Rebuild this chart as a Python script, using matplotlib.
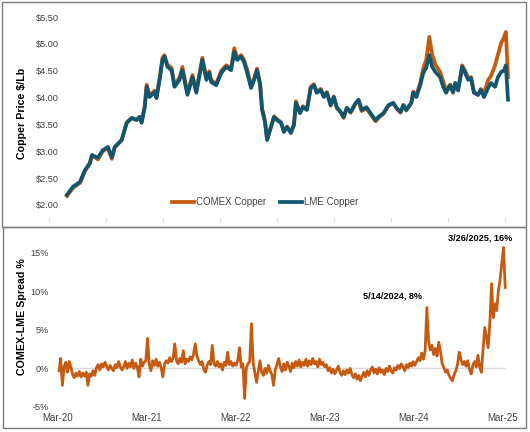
import numpy as np
import pandas as pd
import matplotlib
matplotlib.use("Agg")
import matplotlib.pyplot as plt
import matplotlib.dates as mdates
from matplotlib.patches import Rectangle

plt.rcParams['font.family'] = ['Liberation Sans', 'DejaVu Sans']

# ---------------- data ----------------
price_dates = [
    "2020-03-23", "2020-04-17", "2020-05-16", "2020-06-06", "2020-06-26", "2020-07-05", "2020-07-30",
    "2020-08-19", "2020-09-09", "2020-09-26", "2020-10-08", "2020-11-06", "2020-11-27", "2020-12-18",
    "2021-01-07", "2021-01-20", "2021-01-28", "2021-02-10", "2021-02-18", "2021-03-02", "2021-03-23",
    "2021-03-31", "2021-04-13", "2021-04-25", "2021-05-03", "2021-05-16", "2021-06-02", "2021-06-14",
    "2021-07-05", "2021-07-17", "2021-08-07", "2021-08-28", "2021-09-13", "2021-10-08", "2021-10-25",
    "2021-11-06", "2021-11-14", "2021-12-05", "2021-12-26", "2022-01-16", "2022-02-05", "2022-02-18",
    "2022-03-02", "2022-03-19", "2022-03-31", "2022-04-13", "2022-04-29", "2022-05-12", "2022-05-24",
    "2022-06-06", "2022-06-14", "2022-06-26", "2022-07-05", "2022-07-21", "2022-08-03", "2022-08-15",
    "2022-09-01", "2022-09-13", "2022-09-26", "2022-10-12", "2022-10-25", "2022-11-02", "2022-11-19",
    "2022-12-01", "2022-12-18", "2023-01-03", "2023-01-16", "2023-01-28", "2023-02-14", "2023-02-26",
    "2023-03-11", "2023-03-27", "2023-04-09", "2023-04-21", "2023-05-08", "2023-05-20", "2023-06-02",
    "2023-06-18", "2023-07-09", "2023-07-21", "2023-08-03", "2023-08-23", "2023-09-09", "2023-09-30",
    "2023-10-12", "2023-11-02", "2023-11-23", "2023-12-13", "2023-12-26", "2024-01-12", "2024-01-24",
    "2024-02-05", "2024-02-26", "2024-03-05", "2024-03-18", "2024-04-03", "2024-04-16", "2024-04-28",
    "2024-05-11", "2024-05-23", "2024-06-05", "2024-06-25", "2024-07-08", "2024-07-20", "2024-08-06",
    "2024-08-18", "2024-08-27", "2024-09-08", "2024-09-25", "2024-10-07", "2024-10-20", "2024-11-01",
    "2024-11-13", "2024-11-30", "2024-12-12", "2024-12-25", "2025-01-11", "2025-01-23", "2025-02-09",
    "2025-02-21", "2025-03-07", "2025-03-18", "2025-03-26", "2025-04-04",
]
lme_copper = [
    2.19, 2.34, 2.43, 2.65, 2.78, 2.93, 2.88, 3.02, 3.08, 2.89, 3.08, 3.21, 3.53, 3.62,
    3.58, 3.64, 3.53, 3.82, 4.20, 4.01, 4.10, 3.99, 4.33, 4.70, 4.76, 4.57, 4.51, 4.20,
    4.33, 4.51, 4.05, 4.38, 4.09, 4.70, 4.33, 4.46, 4.29, 4.23, 4.46, 4.57, 4.51, 4.85,
    4.70, 4.76, 4.66, 4.46, 4.18, 4.33, 4.51, 4.23, 3.77, 3.55, 3.21, 3.45, 3.64, 3.58,
    3.53, 3.36, 3.45, 3.34, 3.49, 3.90, 3.71, 3.82, 3.77, 4.18, 4.23, 4.09, 4.14, 4.01,
    4.09, 3.86, 4.01, 3.82, 3.73, 3.64, 3.81, 3.73, 3.90, 3.96, 3.77, 3.82, 3.71, 3.58,
    3.64, 3.71, 3.86, 3.90, 3.81, 3.73, 3.86, 3.77, 3.90, 4.09, 4.01, 4.23, 4.46, 4.55,
    4.79, 4.57, 4.48, 4.38, 4.20, 4.09, 4.23, 4.10, 4.27, 4.14, 4.57, 4.46, 4.33, 4.36,
    4.09, 4.05, 4.14, 4.01, 4.18, 4.27, 4.20, 4.38, 4.48, 4.50, 4.60, 3.96,
]
comex_copper = [
    2.17, 2.32, 2.41, 2.63, 2.77, 2.92, 2.85, 3.00, 3.06, 2.86, 3.07, 3.21, 3.54, 3.62,
    3.59, 3.64, 3.55, 3.84, 4.24, 4.04, 4.13, 4.01, 4.37, 4.74, 4.79, 4.61, 4.55, 4.24,
    4.37, 4.57, 4.08, 4.42, 4.12, 4.74, 4.37, 4.49, 4.32, 4.26, 4.50, 4.60, 4.55, 4.92,
    4.74, 4.79, 4.70, 4.52, 4.22, 4.36, 4.54, 4.26, 3.80, 3.57, 3.22, 3.46, 3.65, 3.60,
    3.54, 3.38, 3.46, 3.36, 3.50, 3.93, 3.72, 3.84, 3.78, 4.20, 4.25, 4.11, 4.16, 4.03,
    4.10, 3.85, 4.02, 3.81, 3.72, 3.62, 3.80, 3.72, 3.89, 3.95, 3.75, 3.80, 3.69, 3.56,
    3.62, 3.70, 3.85, 3.90, 3.80, 3.72, 3.86, 3.76, 3.90, 4.11, 4.04, 4.27, 4.55, 4.70,
    5.13, 4.80, 4.62, 4.48, 4.30, 4.14, 4.24, 4.09, 4.27, 4.13, 4.60, 4.50, 4.37, 4.38,
    4.11, 4.05, 4.16, 4.08, 4.33, 4.40, 4.60, 4.80, 5.02, 5.12, 5.22, 4.38,
]

# weekly (Friday) COMEX-LME spread, % — first week ends 2020-03-27
spread_first_week = "2020-03-27"
spread_pct = [
    -0.3, 1.3, -2.2, 0.2, 0.8, -0.5, 0.9, 0.2, -0.8, -1.2,
    -0.6, -1.0, -0.4, -1.1, -0.6, -1.0, -0.5, -2.2, -0.7, -1.0,
    -0.3, -0.9, 0.1, 0.5, -0.2, 0.6, 0.2, 0.8, 0.3, -0.2,
    0.4, 0.0, -0.3, 0.5, 0.1, 0.9, 0.2, -0.2, 0.2, 0.9,
    0.0, 0.7, 0.2, 1.1, 0.0, 0.7, 0.2, -1.1, 1.2, 0.3,
    0.8, 1.0, 3.9, 0.5, -0.3, 1.0, 0.4, 1.2, 0.3, 0.8,
    0.1, -1.1, 0.6, 1.0, 0.7, 1.4, 0.9, 1.3, 3.2, 1.0,
    0.6, 1.3, 0.8, 2.3, 0.6, 1.2, 0.9, 1.5, 1.1, 1.8,
    3.2, 1.6, 1.0, 0.5, 0.9, -0.1, -0.5, 0.4, 0.9, 0.5,
    3.0, 0.6, 0.3, 0.9, 0.2, 0.6, -0.2, 0.8, 0.4, 2.1,
    0.5, 0.9, 0.3, 0.7, 0.4, 1.0, 2.7, 0.2, 0.6, -3.9,
    0.1, 0.6, 0.9, 5.8, 0.8, -0.6, -1.8, -0.4, 1.0, -0.5,
    -0.9, 0.0, -0.6, 0.4, -0.3, -0.8, -2.2, -0.2, 0.5, 1.3,
    0.2, -0.4, 0.6, -0.2, 0.8, 0.3, -0.4, 0.7, 0.1, 0.9,
    0.3, 1.1, 0.2, 0.8, 0.4, 1.2, 0.3, 1.0, 0.5, 1.3,
    0.6, 0.9, 0.2, 1.2, 0.5, 0.8, 0.2, 0.5, -0.3, 0.1,
    -0.6, -0.1, -0.7, -0.2, 0.3, -0.5, -0.9, -0.3, -0.8, -0.2,
    -0.6, 0.0, -0.8, -1.2, -0.7, -1.4, -0.9, -1.6, -1.0, -0.5,
    -1.1, -0.3, -0.9, -0.2, 0.2, -0.6, -0.1, -0.7, 0.1, -0.5,
    -0.2, -0.8, 0.0, -0.4, 0.3, -0.3, -0.6, 0.1, -0.2, 0.4,
    0.0, 0.6, 0.2, -0.3, 0.5, 0.1, 0.7, 0.3, 0.9, 0.4,
    0.9, 1.4, 1.0, 2.0, 1.2, 2.3, 7.9, 3.6, 2.4, 3.0,
    1.8, 2.6, 1.6, 3.4, 2.2, 0.6, 0.1, -0.5, -0.2, -0.9,
    -1.3, -1.6, -0.8, -0.3, 0.5, 2.1, 1.2, 0.5, 0.9, 0.3,
    1.0, -0.1, -0.7, 0.4, 0.9, 0.2, 1.7, 0.2, -0.5, 2.5,
    5.3, 4.0, 2.7, 6.0, 11.0, 6.6, 8.4, 7.5, 10.1, 11.5, 13.6, 15.7, 10.5,
]
annotations = [("2024-05-14", 7.9, "5/14/2024, 8%"), ("2025-03-26", 15.7, "3/26/2025, 16%")]
axis_start = "2020-03-23"

price_ticks = [2.0, 2.5, 3.0, 3.5, 4.0, 4.5, 5.0, 5.5]
spread_ticks = [-5, 0, 5, 10, 15]

# ---------------- style ----------------
ORANGE = "#C55A11"
BLUE = "#10566F"
TXT = "#404040"
W, H = 530, 432

fig = plt.figure(figsize=(W / 100, H / 100), dpi=100)

def px_axes(l, t, r, b):
    return fig.add_axes([l / W, 1 - b / H, (r - l) / W, (b - t) / H])

pdates = pd.to_datetime(price_dates)
sdates = pd.date_range(spread_first_week, periods=len(spread_pct), freq="7D")
p0 = mdates.date2num(pdates[0])
p1 = mdates.date2num(pdates[-1])

# ---------------- top panel ----------------
ax1 = px_axes(49, 14, 512, 218)
ax1.plot(pdates, comex_copper, color=ORANGE, lw=2.7, label="COMEX Copper", solid_joinstyle="round")
ax1.plot(pdates, lme_copper, color=BLUE, lw=2.7, label="LME Copper", solid_joinstyle="round")
ppd = (508 - 67) / (p1 - p0)
xmin1 = p0 - (67 - 49) / ppd
xmax1 = p0 + (512 - 67) / ppd
ax1.set_xlim(xmin1, xmax1)
ax1.set_ylim(2.0 - 13 / 53.7, 5.5 + 3 / 53.7)
ax1.set_yticks(price_ticks)
ax1.set_yticklabels([f"${v:.2f}" for v in price_ticks])
ax1.set_xticks([xmin1 + k * 57 / ppd for k in range(9)])
ax1.tick_params(axis="x", length=3, width=0.8, color="#D9D9D9", labelbottom=False, direction="out")
ax1.tick_params(axis="y", length=0, pad=-6.8, labelsize=6.6, labelcolor=TXT)
for s in ax1.spines.values():
    s.set_visible(False)
leg = ax1.legend(loc="center", bbox_to_anchor=(265 / W, 1 - 202 / H), bbox_transform=fig.transFigure,
                 ncol=2, frameon=False, fontsize=7, handlelength=2.3, handletextpad=0.2,
                 columnspacing=1.4, labelcolor=TXT)
fig.text(22 / W, 1 - 113 / H, "Copper Price $/Lb", rotation=90, ha="center", va="center",
         fontsize=7.7, fontweight="bold", color="black")

# ---------------- bottom panel ----------------
ax2 = px_axes(50, 232, 512, 407)
s0 = mdates.date2num(pd.Timestamp(axis_start))
s_end = mdates.date2num(pd.Timestamp(annotations[1][0]))
ppd2 = (503 - 58) / (s_end - s0)
ax2.set_xlim(s0 - (58 - 50) / ppd2, s0 + (512 - 58) / ppd2)
ax2.hlines(0, pd.Timestamp(axis_start), sdates[-1], color="#D9D9D9", lw=1.0, zorder=1)
ax2.plot(sdates, spread_pct, color=ORANGE, lw=2.0, zorder=2, solid_joinstyle="round")
ax2.set_ylim(-5, 17.7)
ax2.set_yticks(spread_ticks)
ax2.set_yticklabels([f"{v}%" for v in spread_ticks])
xt = [s0 + k * 365.25 for k in range(6)]
ax2.set_xticks(xt)
ax2.xaxis.set_major_formatter(mdates.DateFormatter("%b-%y"))
ax2.tick_params(axis="x", length=0, pad=4.5, labelsize=7, labelcolor=TXT)
ax2.tick_params(axis="y", length=0, pad=0.5, labelsize=6.6, labelcolor=TXT)
for s in ax2.spines.values():
    s.set_visible(False)
offsets = [(-24.5, 8.0), (-16.5, 6.6)]
for (d, v, txt), (dx, dy) in zip(annotations, offsets):
    ax2.annotate(txt, xy=(pd.Timestamp(d), v), xytext=(dx, dy), textcoords="offset points",
                 ha="center", va="center", fontsize=6.6, fontweight="bold", color="black")
fig.text(22 / W, 1 - 317 / H, "COMEX-LME Spread %", rotation=90, ha="center", va="center",
         fontsize=7.7, fontweight="bold", color="black")

# ---------------- panel borders ----------------
fig.add_artist(Rectangle((2 / W, 1 - 226.5 / H), 524 / W, 224.5 / H, transform=fig.transFigure,
                         fill=False, ec="#7F7F7F", lw=1.0))
fig.add_artist(Rectangle((3 / W, 1 - 428 / H), 523 / W, 201 / H, transform=fig.transFigure,
                         fill=False, ec="#7F7F7F", lw=1.0))

fig.savefig("out.png", dpi=100)
